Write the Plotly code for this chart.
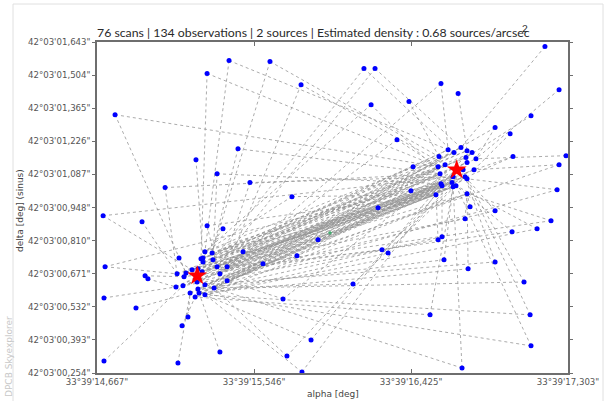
import plotly.graph_objects as go

# ---- data (alpha: arcsec within 33°39', delta: arcsec within 42°03') ----
src_alpha = [15.228, 16.680]
src_delta = [0.662, 1.107]
mean_alpha = [15.971]
mean_delta = [0.842]

out_alpha = [17.174, 15.406, 15.635, 15.283, 16.161, 16.223, 15.809, 16.592, 16.688, 17.253,
             16.201, 16.413, 14.768, 17.096, 16.895, 16.979, 16.346, 15.456, 15.221, 16.995,
             17.292, 17.253, 16.436, 15.339, 15.523, 15.048, 17.242, 15.758, 16.424, 14.701,
             14.919, 15.283, 15.372, 16.240, 16.755, 16.895, 16.727, 17.208, 17.130, 16.990,
             15.904, 16.598, 16.576, 15.126, 15.484, 16.262, 16.296, 15.786, 15.596, 16.609,
             16.895, 14.712, 16.744, 17.057, 16.100, 14.936, 14.952, 14.706, 14.885, 15.708,
             17.091, 16.531, 15.176, 15.143, 15.865, 17.096, 15.355, 15.730, 14.706, 15.120,
             16.710, 15.814]
out_delta = [1.624, 1.565, 1.561, 1.511, 1.532, 1.532, 1.464, 1.469, 1.427, 1.443,
             1.380, 1.393, 1.338, 1.334, 1.284, 1.258, 1.233, 1.195, 1.149, 1.162,
             1.166, 1.128, 1.120, 1.090, 1.053, 1.032, 1.023, 0.994, 1.019, 0.914,
             0.889, 0.872, 0.859, 0.947, 0.952, 0.935, 0.901, 0.893, 0.859, 0.847,
             0.813, 0.826, 0.813, 0.737, 0.763, 0.771, 0.758, 0.746, 0.712, 0.729,
             0.720, 0.700, 0.691, 0.636, 0.628, 0.662, 0.649, 0.569, 0.527, 0.565,
             0.498, 0.498, 0.489, 0.452, 0.393, 0.368, 0.342, 0.325, 0.304, 0.296,
             0.275, 0.258]

b_alpha = [16.632, 16.704, 16.738, 16.665, 16.581, 16.732, 16.788, 16.738, 16.576, 16.615,
           16.716, 16.777, 16.587, 16.727, 16.738, 16.660, 16.654, 16.592, 16.598, 16.676,
           16.660, 16.738, 16.564, 16.766]
b_delta = [1.191, 1.200, 1.187, 1.179, 1.162, 1.158, 1.153, 1.137, 1.120, 1.128,
           1.107, 1.107, 1.090, 1.078, 1.069, 1.078, 1.053, 1.048, 1.040, 1.040,
           1.036, 1.006, 1.002, 1.179]

a_alpha = [15.271, 15.311, 15.249, 15.260, 15.316, 15.260, 15.339, 15.395, 15.232, 15.255,
           15.199, 15.165, 15.115, 15.154, 15.109, 15.148, 15.227, 15.271, 15.322, 15.395,
           15.232, 15.188, 15.238, 15.216, 15.271, 15.355]
a_delta = [0.763, 0.758, 0.733, 0.737, 0.729, 0.720, 0.700, 0.700, 0.691, 0.679,
           0.687, 0.674, 0.670, 0.658, 0.615, 0.620, 0.636, 0.624, 0.611, 0.641,
           0.607, 0.590, 0.590, 0.573, 0.582, 0.670]

# scan links between observations
band_links = ("A1-B11 A2-B13 A3-B16 A4-B9 A5-B18 A6-B17 A7-B20 A8-B19 A9-B21 A10-B14 "
              "A11-B10 A12-B15 A13-B23 A14-B22 A15-B13 A16-B11 A17-B12 A18-B19 A19-B18 "
              "A20-B17 A21-B16 A22-B20 A23-B21 A24-B9 A25-B10 A26-B23 A1-B5 A3-B4 A5-B1 "
              "A7-B8 A9-B6 A11-B3 A13-B24 A15-B2 A17-B7 A19-B12 A21-B14 A23-B15 A25-B22 "
              "A26-B19 A8-B13 A10-B18 A12-B20 A14-B17 A16-B23 A2-B3 A4-B6 A6-B8 A8-B10 "
              "A10-B12 A12-B14 A14-B16 A16-B18 A18-B20 A20-B22 A22-B24 A24-B2 A26-B4 "
              "A2-B21 A4-B23 A6-B1").split()
out_links = ("O1-B2 O2-A1 O2-B1 O3-A2 O3-B5 O4-A3 O4-B9 O5-A5 O5-B4 O6-A7 O6-B2 O7-A8 O7-B10 "
             "O8-B1 O8-A26 O9-B3 O10-B7 O11-B13 O11-A1 O12-B5 O13-A12 O13-B9 O14-B6 O15-B7 "
             "O15-A20 O16-B12 O17-B9 O17-A8 O18-A2 O18-B13 O19-A4 O20-B12 O20-A19 O21-B7 "
             "O22-B12 O22-A18 O23-B10 O23-A7 O24-A5 O24-B18 O25-A26 O25-B16 O26-A13 O26-B13 "
             "O27-B15 O27-A22 O28-A1 O28-B23 O29-B19 O29-A20 O30-A11 O30-B16 O31-A13 O32-A7 "
             "O32-B23 O33-A4 O34-B23 O34-A10 O35-B22 O36-B15 O36-A17 O37-B22 O37-A9 O38-B22 "
             "O38-A12 O39-B20 O39-A25 O40-B20 O40-A14 O41-A8 O41-B17 O42-B19 O42-A19 O43-B23 "
             "O43-A16 O44-A12 O45-A26 O45-B18 O46-A10 O46-B21 O47-B17 O47-A24 O48-A20 O48-B11 "
             "O49-A7 O50-B21 O50-A21 O51-B14 O51-A18 O52-A13 O52-B14 O53-B22 O53-A23 O54-B15 "
             "O54-A21 O55-A19 O55-B20 O56-A14 O57-A15 O58-A15 O59-A22 O60-A20 O60-B24 O61-B14 "
             "O61-A25 O62-B21 O62-A24 O63-A22 O64-A24 O65-A25 O65-B18 O66-B20 O66-A23 O67-A23 "
             "O68-A19 O68-B16 O69-A16 O70-A22 O71-B21 O71-A18 O72-A21 O72-B19").split()

x_ticks = [14.667, 15.546, 16.425, 17.303]
x_labels = ["33°39'14,667\"", "33°39'15,546\"", "33°39'16,425\"", "33°39'17,303\""]
y_labels = ["42°03'00,254\"", "42°03'00,393\"", "42°03'00,532\"", "42°03'00,671\"",
            "42°03'00,810\"", "42°03'00,948\"", "42°03'01,087\"", "42°03'01,226\"",
            "42°03'01,365\"", "42°03'01,504\"", "42°03'01,643\""]
y_lo, y_hi = 0.254, 1.643
y_ticks = [y_lo + i * (y_hi - y_lo) / 10 for i in range(11)]

groups = {"O": (out_alpha, out_delta), "A": (a_alpha, a_delta), "B": (b_alpha, b_delta)}


def pt(tok):
    g = groups[tok[0]]
    i = int(tok[1:]) - 1
    return g[0][i], g[1][i]


lx, ly = [], []
for link in band_links + out_links:
    p, q = link.split("-")
    (x0, y0), (x1, y1) = pt(p), pt(q)
    lx += [x0, x1, None]
    ly += [y0, y1, None]

fig = go.Figure()
fig.add_trace(go.Scatter(x=lx, y=ly, mode="lines", hoverinfo="skip",
                         line=dict(color="rgba(150,150,150,0.8)", width=1, dash="3px,3px")))
fig.add_trace(go.Scatter(x=out_alpha + a_alpha + b_alpha, y=out_delta + a_delta + b_delta,
                         mode="markers", marker=dict(color="#0000ff", size=5), cliponaxis=False))
fig.add_trace(go.Scatter(x=mean_alpha, y=mean_delta, mode="markers",
                         marker=dict(color="#33aa66", size=3, symbol="cross")))
fig.add_trace(go.Scatter(x=src_alpha, y=src_delta, mode="markers",
                         marker=dict(color="#ff0000", size=15, symbol="star",
                                     line=dict(width=0))))

tickfont = dict(family="DejaVu Sans", size=8.6, color="#555555")
fig.update_layout(
    width=609, height=401, showlegend=False,
    paper_bgcolor="white", plot_bgcolor="white",
    margin=dict(l=97, r=41, t=42, b=28),
    xaxis=dict(range=[14.667, 17.303], tickvals=x_ticks, ticktext=x_labels, automargin=False,
               showgrid=False, zeroline=False, showline=True, linecolor="#6e6e6e",
               linewidth=1.5, mirror="ticks", ticks="inside", ticklen=4,
               tickcolor="#6e6e6e", tickfont=tickfont),
    yaxis=dict(range=[y_lo, y_hi], tickvals=y_ticks, ticktext=y_labels, automargin=False,
               showgrid=False, zeroline=False, showline=True, linecolor="#6e6e6e",
               linewidth=1.5, mirror="ticks", ticks="outside", ticklen=3,
               tickcolor="#6e6e6e", tickfont=tickfont),
)


def px_x(px):
    return (px - 97) / 471


def px_y(py):
    return (373 - py) / 331


fig.add_annotation(xref="paper", yref="paper", x=px_x(532), y=px_y(33), xanchor="right",
                   yanchor="middle",
                   text="76 scans | 134 observations | 2 sources | Estimated density : 0.68 sources/arcsec",
                   showarrow=False, font=dict(family="Lato", size=12.3, color="#2a2a2a"))
fig.add_annotation(xref="paper", yref="paper", x=px_x(530), y=px_y(28), yanchor="middle",
                   text="2", showarrow=False, font=dict(family="Lato", size=10, color="#2a2a2a"))
fig.add_annotation(xref="paper", yref="paper", x=px_x(333), y=px_y(394), yanchor="middle",
                   text="alpha [deg]", showarrow=False,
                   font=dict(family="DejaVu Sans", size=9, color="#444444"))
fig.add_annotation(xref="paper", yref="paper", x=px_x(20), y=px_y(211), xanchor="center",
                   yanchor="middle", textangle=-90, text="delta [deg] (sinus)", showarrow=False,
                   font=dict(family="DejaVu Sans", size=9, color="#444444"))
fig.add_annotation(xref="paper", yref="paper", x=px_x(9), y=px_y(357), xanchor="center",
                   yanchor="middle", textangle=-90, text="DPCB Skyexplorer", showarrow=False,
                   font=dict(family="DejaVu Sans", size=9, color="#c8c8c8"))

# page frame
fl = dict(color="#e0e0e0", width=1)
fig.add_shape(type="line", xref="paper", yref="paper", x0=px_x(13), x1=px_x(603),
              y0=px_y(4), y1=px_y(4), line=fl)
fig.add_shape(type="line", xref="paper", yref="paper", x0=px_x(13), x1=px_x(13),
              y0=px_y(401), y1=px_y(4), line=fl)
fig.add_shape(type="line", xref="paper", yref="paper", x0=px_x(603), x1=px_x(603),
              y0=px_y(401), y1=px_y(4), line=fl)

fig.write_html("out.html")
